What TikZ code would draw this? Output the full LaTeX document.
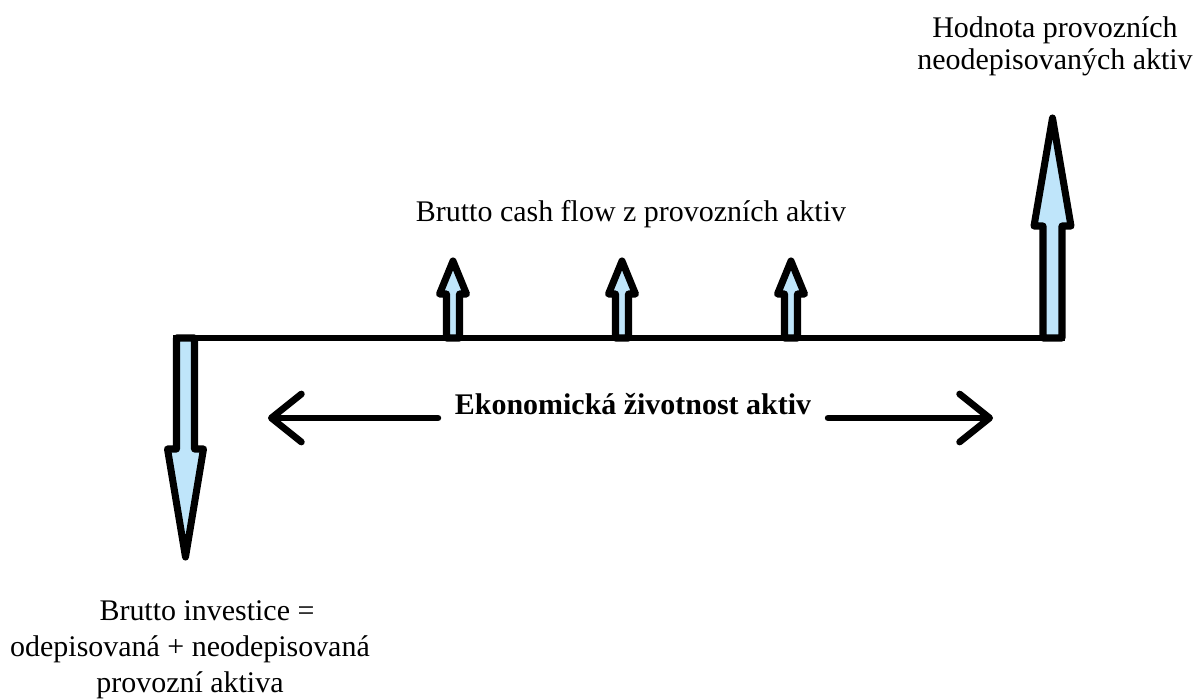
\documentclass[tikz,border=0pt]{standalone}
\usepackage{fontspec}
\setmainfont{Liberation Serif}
\usetikzlibrary{arrows.meta,positioning}
\definecolor{flowblue}{RGB}{191,229,250}

% x, base y, shoulder y, tip y, shaft half width, head half width
\newcommand{\flowarrow}[6]{%
  \draw [flow] ({#1-#5},#2) -- ({#1-#5},#3) -- ({#1-#6},#3) -- (#1,#4)
    -- ({#1+#6},#3) -- ({#1+#5},#3) -- ({#1+#5},#2) -- cycle;}

\begin{document}
\begin{tikzpicture}
  [x=0.025cm, y=-0.025cm,
   flow/.style={line width=5pt, fill=flowblue, line join=round},
   axis/.style={line width=4.8pt},
   span/.style={line width=4.8pt, line cap=round,
     -{Straight Barb[length=0.75cm,width=1.2cm,line cap=round,line join=round]}},
   txt/.style={align=center, font=\fontsize{21.3}{22.8}\selectfont}]
  \useasboundingbox (0,0) rectangle (1198,699);

  % outflow and inflows
  \flowarrow{185.5}{338}{449}{557}{9}{18}
  \flowarrow{453}{338}{294}{261}{6.5}{13.5}
  \flowarrow{622}{338}{294}{261}{6.5}{13.5}
  \flowarrow{791}{338}{294}{261}{6.5}{13.5}
  \flowarrow{1052.5}{338}{226}{118}{9.5}{18.5}

  % time line
  \coordinate (t0) at (173,338);
  \coordinate (tn) at (1065,338);
  \draw [axis] (t0) -- (tn);

  % labels
  \node [txt] (cash) at (631,214) {Brutto cash flow z provozních aktiv};
  \node [txt] (rest) at (1055,46) {Hodnota provozních\\ neodepisovaných aktiv};
  \node [txt, font=\fontsize{21.3}{25.6}\selectfont] (invest) at (190,650)
    {\hspace*{0.85cm}Brutto investice =\\ odepisovaná + neodepisovaná\\ provozní aktiva};
  \node [txt, font=\bfseries\fontsize{21.3}{22.8}\selectfont, inner xsep=0.42cm] (life) at (633,404)
    {Ekonomická životnost aktiv};

  % economic life
  \coordinate (lifeL) at (268,418);
  \coordinate (lifeR) at (993,418);
  \draw [span] (life.west |- lifeL) -- (lifeL);
  \draw [span] (life.east |- lifeR) -- (lifeR);
\end{tikzpicture}
\end{document}
